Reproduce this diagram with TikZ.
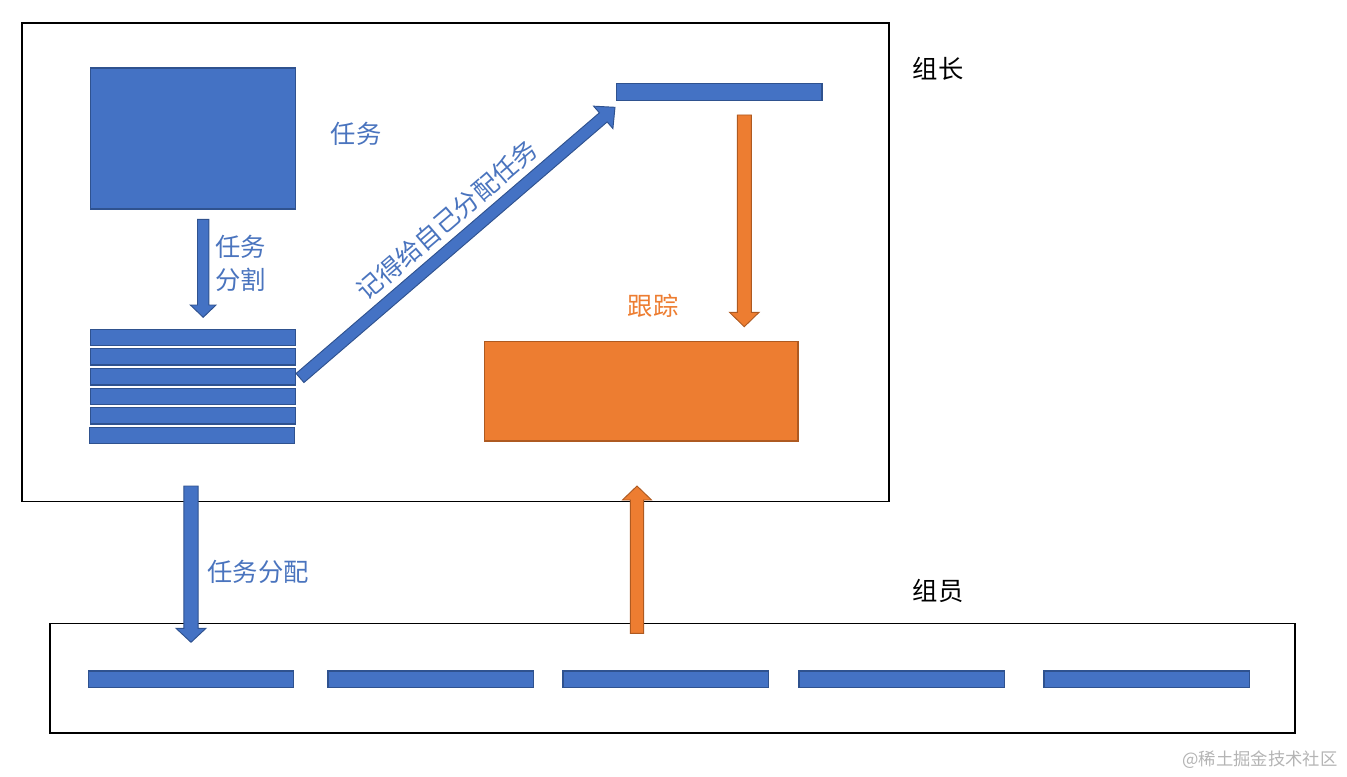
\documentclass[tikz,border=0pt]{standalone}
\usepackage{fontspec}
\setmainfont{Noto Sans CJK SC}
\usetikzlibrary{calc,fit}
\definecolor{bfill}{HTML}{4472C4}
\definecolor{bline}{HTML}{2F528F}
\definecolor{ofill}{HTML}{ED7D31}
\definecolor{oline}{HTML}{AE5A21}
\definecolor{btext}{HTML}{4A74BE}
\definecolor{otext}{HTML}{ED7D31}
\definecolor{wm}{HTML}{B4B4B4}
\newcommand\blockarrow[6]{%
  \coordinate (ba-h) at ($(#3)!#6!(#2)$);
  \draw[#1] ($(#2)!#4!90:(#3)$) -- ($(ba-h)!#4!90:(#3)$) -- ($(ba-h)!#5!90:(#3)$) -- (#3)
    -- ($(ba-h)!#5!-90:(#3)$) -- ($(ba-h)!#4!-90:(#3)$) -- ($(#2)!#4!-90:(#3)$) -- cycle;
}
\tikzset{
  bluebox/.style={draw=bline, fill=bfill, line width=0.8pt, inner sep=0pt},
  orangebox/.style={draw=oline, fill=ofill, line width=0.8pt, inner sep=0pt},
  framebox/.style={draw=black, line width=0.9pt, inner sep=0pt},
  bluearrow/.style={draw=bline, fill=bfill, line width=0.7pt, line join=miter},
  orangearrow/.style={draw=oline, fill=ofill, line width=0.7pt, line join=miter},
  lbl/.style={inner sep=0pt, font=\fontsize{19}{24.75}\selectfont},
}
\begin{document}
\begin{tikzpicture}[x=0.75pt,y=-0.75pt]
\useasboundingbox (0,0) rectangle (1347,777);
% frames
\node[framebox, fit={(22,23) (889,501.5)}] (leader) {};
\node[framebox, fit={(50,623.3) (1295,733)}] (members) {};
% leader area
\node[bluebox, fit={(90.5,68) (295.5,209)}] (task) {};
\node[bluebox, fit={(90.5,329.3) (295.5,345.3)}] (s1) {};
\node[bluebox, fit={(90.5,348.3) (295.5,365)}] (s2) {};
\node[bluebox, fit={(90.5,368.3) (295.5,385)}] (s3) {};
\node[bluebox, fit={(90.5,388.3) (295.5,404.3)}] (s4) {};
\node[bluebox, fit={(90.5,407.3) (295.5,424)}] (s5) {};
\node[bluebox, fit={(89.3,427.3) (294.6,443.3)}] (s6) {};
\node[bluebox, fit={(616.3,83.3) (822,100.3)}] (self) {};
\node[orangebox, fit={(484.3,341.3) (798,441)}] (track) {};
% member bars
\node[bluebox, fit={(88.2,671) (293.6,687.3)}] (m1) {};
\node[bluebox, fit={(328,671) (533.7,687.3)}] (m2) {};
\node[bluebox, fit={(563,671) (768.5,687.3)}] (m3) {};
\node[bluebox, fit={(799,671) (1004.5,687.3)}] (m4) {};
\node[bluebox, fit={(1044,671) (1249.5,687.3)}] (m5) {};
% arrow end points
\coordinate (a1s) at (203.2,219.3);
\coordinate (a1e) at (203.2,317.3);
\coordinate (a2s) at (300,378);
\coordinate (a2e) at (615,107.3);
\coordinate (a3s) at (744.3,115);
\coordinate (a3e) at (744.3,326.7);
\coordinate (a4s) at (637,633.3);
\coordinate (a4e) at (637,486);
\coordinate (a5s) at (191,486);
\coordinate (a5e) at (191,642.3);
\blockarrow{bluearrow}{a1s}{a1e}{4.3pt}{9.6pt}{9.2pt}
\blockarrow{bluearrow}{a2s}{a2e}{4.5pt}{11.1pt}{11.6pt}
\blockarrow{orangearrow}{a3s}{a3e}{5.25pt}{11.1pt}{10.8pt}
\blockarrow{orangearrow}{a4s}{a4e}{5pt}{10.9pt}{10.5pt}
\blockarrow{bluearrow}{a5s}{a5e}{5.3pt}{11.25pt}{10.5pt}
% labels
\node[lbl] (tleader) at (938,69) {组长};
\node[lbl] (tmember) at (938,591) {组员};
\node[lbl, text=btext] (ttask) at (356,134) {任务};
\node[lbl, text=btext, align=left, anchor=west] (tsplit) at (215,263) {任务\\分割};
\node[lbl, text=btext, rotate=40.7] (tself) at (447,220) {记得给自己分配任务};
\node[lbl, text=otext] (ttrack) at (653,306) {跟踪};
\node[lbl, text=btext] (tassign) at (258,572) {任务分配};
\node[inner sep=0pt, text=wm, font=\fontsize{13}{15}\selectfont] (wmark) at (1260,760) {@稀土掘金技术社区};
\end{tikzpicture}
\end{document}
